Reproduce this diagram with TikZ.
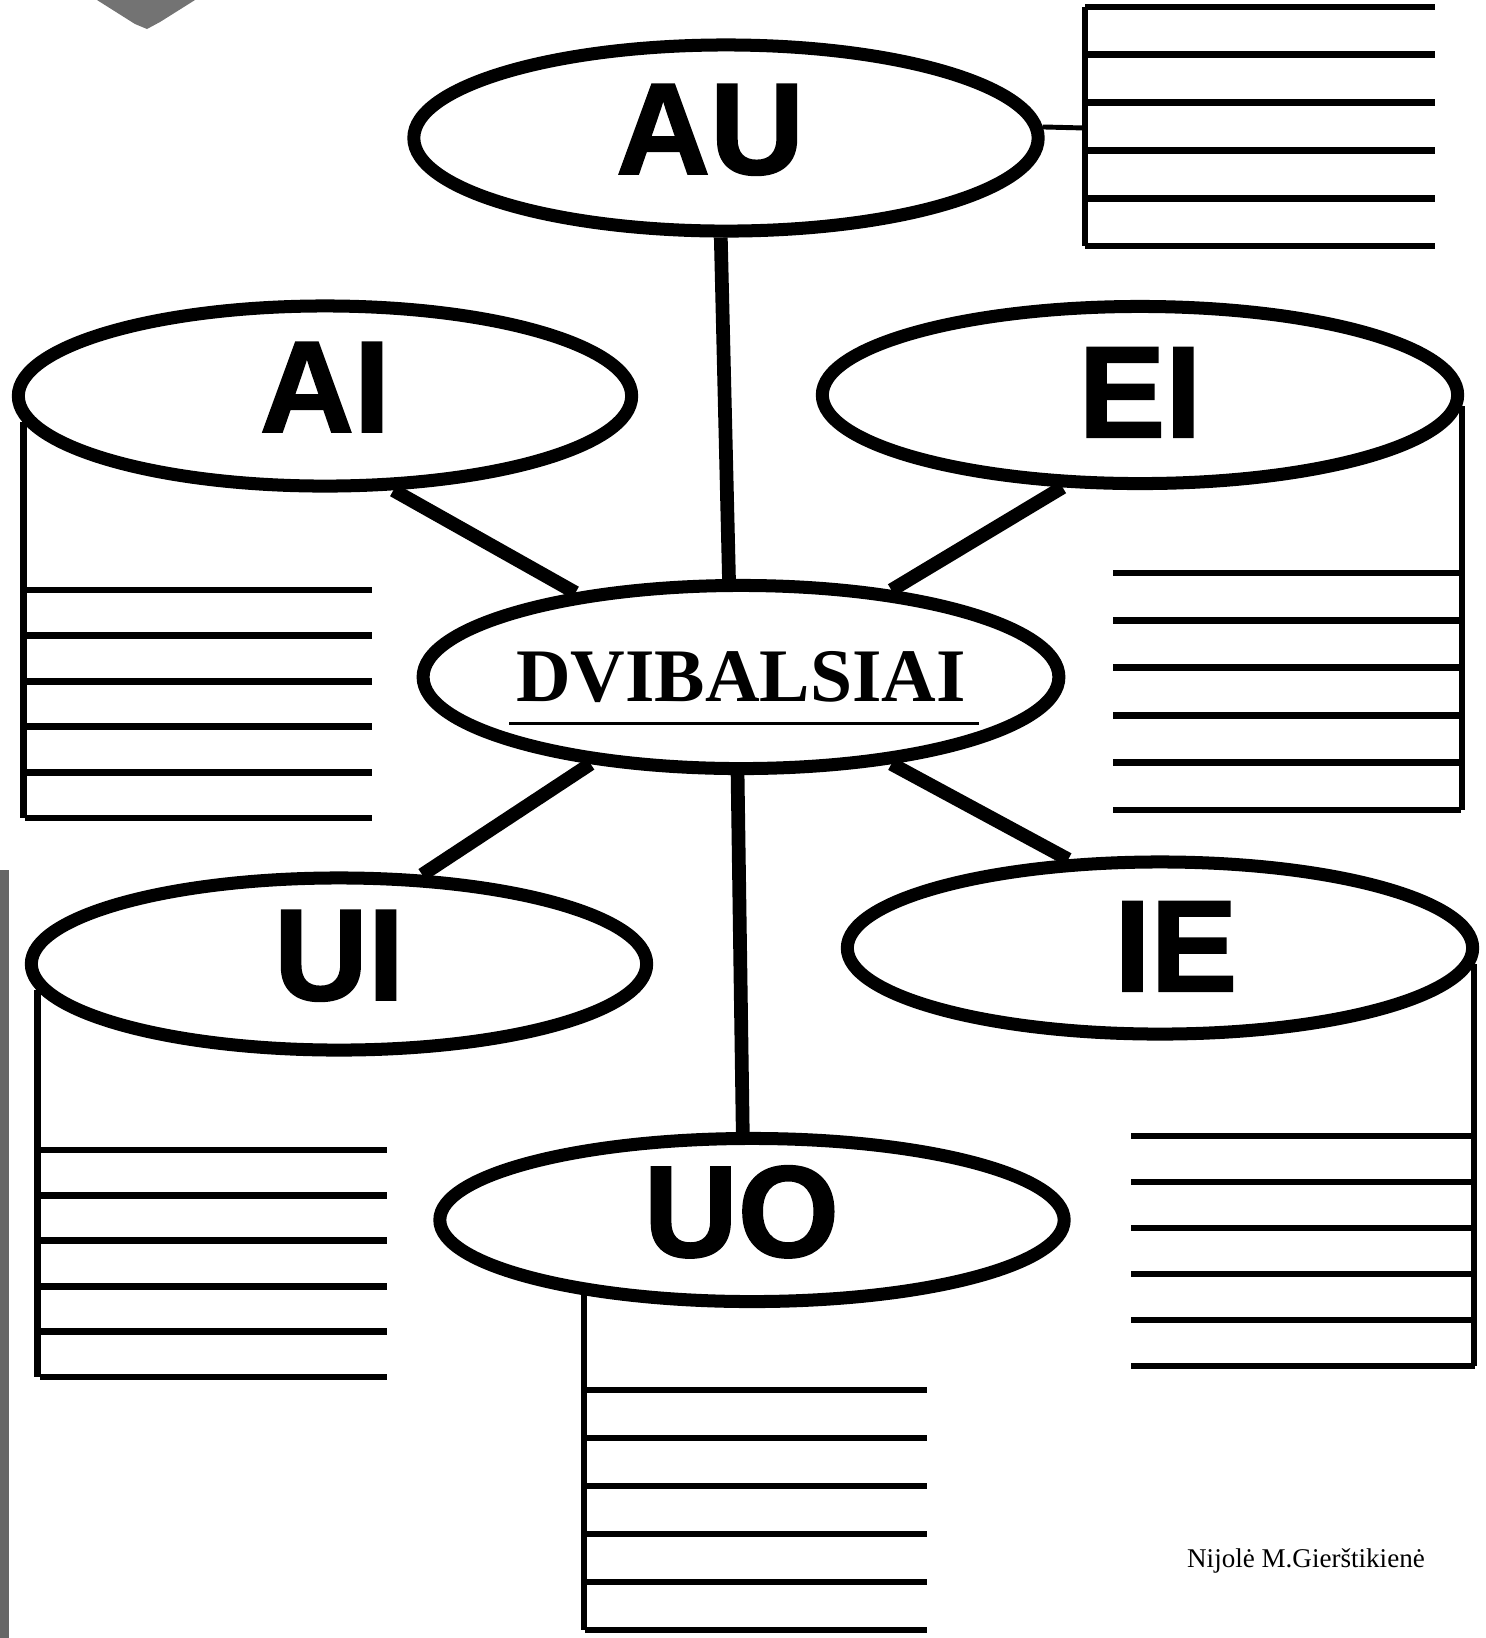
\documentclass[tikz,border=0pt]{standalone}
\usepackage{fontspec}
\setmainfont{Liberation Serif}
\newfontfamily\roundsans[BoldFeatures={FakeBold=1.5}]{Liberation Sans}
\usetikzlibrary{shapes.geometric,calc}

\tikzset{
  vowel/.style={ellipse,draw,line width=3.7pt,inner sep=0pt,text depth=5pt,
    font=\roundsans\bfseries\fontsize{37}{37}\selectfont},
  hub/.style={ellipse,draw,line width=3.7pt,inner sep=0pt,
    font=\bfseries\fontsize{21.5}{21.5}\selectfont},
  link/.style={line width=3.9pt},
  thinlink/.style={line width=1.4pt},
  boxline/.style={line width=1.9pt}
}

\begin{document}
\begin{tikzpicture}[x=0.01cm,y=-0.01cm]
  \useasboundingbox (0,0) rectangle (1486,1638);

  % scan marks
  \fill[black!55] (97,0) -- (195,0) -- (160,22) -- (147,29) -- (135,24) -- cycle;
  \fill[black!60] (0,870) rectangle (9,1638);

  % ellipses
  \node[hub,minimum width=6.01cm,minimum height=1.83cm] (dv) at (741,677) {DVIBALSIAI};
  \node[vowel,minimum width=6.24cm,minimum height=1.86cm] (au) at (726,138) {\hspace*{-9pt}AU};
  \node[vowel,minimum width=6.13cm,minimum height=1.80cm] (ai) at (325,396) {AI};
  \node[vowel,text depth=1.5pt,minimum width=6.35cm,minimum height=1.77cm] (ei) at (1140,395) {EI};
  \node[vowel,minimum width=6.15cm,minimum height=1.72cm] (ui) at (339,964) {UI};
  \node[vowel,text depth=1pt,minimum width=6.25cm,minimum height=1.72cm] (ie) at (1160,948) {IE\hspace*{-9pt}};
  \node[vowel,minimum width=6.24cm,minimum height=1.63cm] (uo) at (752,1220) {\hspace*{-6pt}UO};

  \draw[line width=0.85pt] ($(dv)+(-232,46)$) -- ($(dv)+(238,46)$);

  % spokes
  \draw[link] (au.267) -- (dv.97);
  \draw[link] (ai.306) -- (dv.153);
  \draw[link] (ei.230) -- (dv.30);
  \draw[link] (dv.210) -- (ui.47);
  \draw[link] (dv.330) -- (ie.136);
  \draw[link] (dv.268) -- (uo.96);

  % writing lines
  \coordinate (aujoin) at (1085,128);
  \draw[thinlink] (au.2) -- (aujoin);
  \draw[boxline] (1085,7) -- (1085,246);
  \foreach \k in {0,...,5}
    \draw[boxline] (1085,{7+47.8*\k}) -- (1435,{7+47.8*\k});

  \coordinate (aibot) at (0,818);
  \draw[boxline] (ai.185) -- (ai.185 |- aibot);
  \foreach \k in {0,...,5}
    \draw[boxline] (25,{590+45.6*\k}) -- (372,{590+45.6*\k});

  \coordinate (eibot) at (0,810);
  \draw[boxline] (ei.358) -- (ei.358 |- eibot);
  \foreach \k in {0,...,5}
    \draw[boxline] (1113,{573+47.4*\k}) -- (1461,{573+47.4*\k});

  \coordinate (uibot) at (0,1377);
  \draw[boxline] (ui.185) -- (ui.185 |- uibot);
  \foreach \k in {0,...,5}
    \draw[boxline] (40,{1150+45.4*\k}) -- (387,{1150+45.4*\k});

  \coordinate (iebot) at (0,1366);
  \draw[boxline] (ie.357) -- (ie.357 |- iebot);
  \foreach \k in {0,...,5}
    \draw[boxline] (1131,{1136+46*\k}) -- (1475,{1136+46*\k});

  \coordinate (uobot) at (0,1630);
  \draw[boxline] (uo.204) -- (uo.204 |- uobot);
  \foreach \k in {0,...,5}
    \draw[boxline] (585,{1390+48*\k}) -- (927,{1390+48*\k});

  \node[font=\fontsize{7.7}{9}\selectfont] (sign) at (1306,1561) {Nijolė M.Gierštikienė};
\end{tikzpicture}
\end{document}
